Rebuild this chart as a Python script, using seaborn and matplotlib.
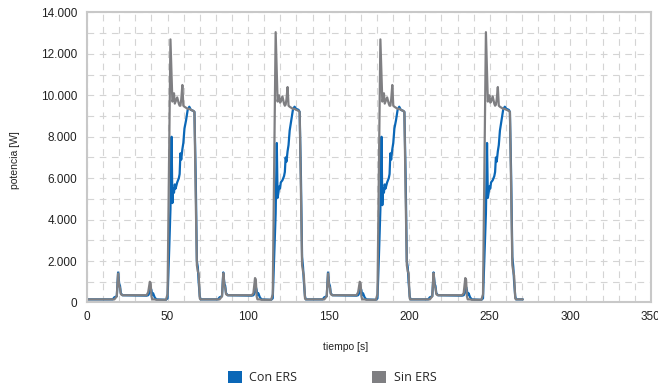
import numpy as np
import pandas as pd
import matplotlib.pyplot as plt
import seaborn as sns
from matplotlib.patches import Patch
from matplotlib.ticker import MultipleLocator, FuncFormatter

# time stamps [s] (shared by both series)
tiempo = [0,
    16, 17, 18.5, 19.3, 20, 20.5, 21, 22, 37, 38, 39, 39.5, 40, 40.5, 41, 42, 43,
    49, 50, 51, 51.8, 52.5, 53, 53.5, 54, 54.5, 55, 56, 57, 57.5, 58, 58.5,
    59.2, 59.8, 60.5, 61.5, 62.5, 63.5, 64.5, 66, 66.7, 67.5, 68.2, 68.8, 69.3, 70, 70.5,
    81.3, 82.3, 83.8, 84.6, 85.3, 85.8, 86.3, 87.3, 102.3, 103.3, 104.3, 104.8, 105.3, 105.8, 106.3, 107.3, 108.3,
    114.3, 115.3, 116.3, 117.1, 117.8, 118.3, 118.8, 119.3, 119.8, 120.3, 121.3, 122.3, 122.8, 123.3, 123.8,
    124.5, 125.1, 125.8, 126.8, 127.8, 128.8, 129.8, 131.3, 132, 132.8, 133.5, 134.1, 134.6, 135.3, 135.8,
    146.3, 147.3, 148.8, 149.6, 150.3, 150.8, 151.3, 152.3, 167.3, 168.3, 169.3, 169.8, 170.3, 170.8, 171.3, 172.3, 173.3,
    179.3, 180.3, 181.3, 182.1, 182.8, 183.3, 183.8, 184.3, 184.8, 185.3, 186.3, 187.3, 187.8, 188.3, 188.8,
    189.5, 190.1, 190.8, 191.8, 192.8, 193.8, 194.8, 196.3, 197, 197.8, 198.5, 199.1, 199.6, 200.3, 200.8,
    211.8, 212.8, 214.3, 215.1, 215.8, 216.3, 216.8, 217.8, 232.8, 233.8, 234.8, 235.3, 235.8, 236.3, 236.8, 237.8, 238.8,
    244.8, 245.8, 246.8, 247.6, 248.3, 248.8, 249.3, 249.8, 250.3, 250.8, 251.8, 252.8, 253.3, 253.8, 254.3,
    255, 255.6, 256.3, 257.3, 258.3, 259.3, 260.3, 261.8, 262.5, 263.3, 264, 264.6, 265.1, 265.8, 266.3,
    270.5]

# potencia [W] sin ERS
sin_ers = [150,
    150, 150, 300, 1400, 800, 700, 400, 350, 350, 500, 1000, 950, 300, 150, 150, 150, 130,
    130, 400, 7000, 12700, 11000, 9700, 9800, 10100, 9600, 9700, 9900, 9600, 9500, 9500, 9800,
    10500, 9500, 9450, 9400, 9350, 9350, 9300, 9250, 9200, 5000, 1800, 1500, 1400, 200, 150,
    150, 150, 300, 1420, 800, 700, 400, 350, 350, 450, 1180, 1100, 300, 150, 150, 150, 130,
    130, 400, 7500, 13050, 11200, 9700, 9900, 10000, 9650, 9700, 9950, 9600, 9500, 9550, 9800,
    10400, 9500, 9450, 9400, 9350, 9350, 9300, 9250, 9200, 5200, 1800, 1500, 1300, 200, 150,
    150, 150, 300, 1400, 800, 700, 400, 350, 350, 500, 1000, 950, 300, 150, 150, 150, 130,
    130, 400, 7000, 12700, 11000, 9700, 9800, 10100, 9600, 9700, 9900, 9600, 9500, 9500, 9800,
    10500, 9500, 9450, 9400, 9350, 9350, 9300, 9250, 9200, 5000, 1800, 1500, 1400, 200, 150,
    150, 150, 300, 1420, 800, 700, 400, 350, 350, 450, 1180, 1100, 300, 150, 150, 150, 130,
    130, 400, 7500, 13050, 11200, 9700, 9900, 10000, 9650, 9700, 9950, 9600, 9500, 9550, 9800,
    10400, 9500, 9450, 9400, 9350, 9350, 9300, 9250, 9200, 5200, 1800, 1500, 1300, 200, 150,
    150]

# potencia [W] con ERS
con_ers = [150,
    150, 250, 300, 1450, 900, 800, 450, 350, 330, 350, 500, 700, 600, 350, 450, 250, 150,
    130, 200, 2500, 4500, 8000, 4800, 5500, 5300, 5700, 5500, 5800, 6000, 6200, 7200, 6900,
    7400, 7700, 8400, 8800, 9300, 9450, 9300, 9250, 9200, 6000, 2000, 1700, 1000, 300, 150,
    150, 250, 300, 1450, 900, 800, 450, 350, 330, 350, 500, 750, 600, 350, 450, 250, 150,
    130, 200, 2500, 4300, 7700, 5050, 5300, 5600, 5500, 5800, 5900, 6100, 6300, 7000, 6800,
    7300, 7600, 8300, 8800, 9300, 9450, 9350, 9300, 9200, 6000, 2200, 1700, 1000, 300, 150,
    150, 250, 300, 1450, 900, 800, 450, 350, 330, 350, 500, 700, 600, 350, 450, 250, 150,
    130, 200, 2500, 4500, 8000, 4700, 5500, 5300, 5700, 5500, 5800, 6000, 6200, 7200, 6900,
    7400, 7700, 8400, 8800, 9300, 9450, 9300, 9250, 9200, 6000, 2000, 1700, 1000, 300, 150,
    150, 250, 300, 1450, 900, 800, 450, 350, 330, 350, 500, 750, 600, 350, 450, 250, 150,
    130, 200, 2500, 4300, 7700, 5050, 5300, 5600, 5500, 5800, 5900, 6100, 6300, 7000, 6800,
    7300, 7600, 8300, 8800, 9300, 9450, 9350, 9300, 9200, 6000, 2200, 1700, 1000, 300, 150,
    150]

series = ['Con ERS', 'Sin ERS']
colores = ['#0a67b7', '#7f7f82']

df = pd.concat([
    pd.DataFrame({'tiempo': tiempo, 'potencia': con_ers, 'serie': series[0]}),
    pd.DataFrame({'tiempo': tiempo, 'potencia': sin_ers, 'serie': series[1]}),
])

sns.set_style('white')
plt.rcParams['font.family'] = ['Liberation Sans', 'DejaVu Sans']

fig = plt.figure(figsize=(6.58, 3.88), dpi=100)
ax = fig.add_axes([0.1322, 0.2204, 0.857, 0.7474])

sns.lineplot(data=df, x='tiempo', y='potencia', hue='serie', hue_order=series,
             palette=colores, linewidth=1.6, estimator=None, sort=False,
             legend=False, ax=ax)

ax.set_xlim(0, 350)
ax.set_ylim(0, 14000)
ax.xaxis.set_major_locator(MultipleLocator(50))
ax.xaxis.set_minor_locator(MultipleLocator(10))
ax.yaxis.set_major_locator(MultipleLocator(2000))
ax.yaxis.set_minor_locator(MultipleLocator(1000))
ax.yaxis.set_major_formatter(FuncFormatter(lambda v, p: f'{int(v):,}'.replace(',', '.')))

ax.grid(which='both', color='#d4d4d4', linewidth=0.8, linestyle=(0, (6, 5)))
ax.set_axisbelow(True)
for s in ax.spines.values():
    s.set_color('#c8c8c8')
    s.set_linewidth(1.5)
ax.tick_params(which='both', length=0, labelsize=8.5, colors='#222222')
ax.tick_params(axis='y', pad=7)
ax.tick_params(axis='x', pad=6)

ax.set_xlabel('tiempo [s]', fontsize=7.5, color='#222222')
ax.set_ylabel('potencia [W]', fontsize=7.5, color='#222222')
ax.xaxis.set_label_coords(0.459, -0.135)
ax.yaxis.set_label_coords(-0.118, 0.49)

handles = [Patch(facecolor=c, edgecolor='none') for c in colores]
fig.legend(handles, series, loc='center', bbox_to_anchor=(0.505, 0.027), ncol=2,
           frameon=False, handlelength=1.1, handleheight=1.1, handletextpad=0.6,
           columnspacing=6.0, prop={'family': ['Open Sans', 'DejaVu Sans'], 'size': 9})

fig.savefig('out.png', dpi=100)
